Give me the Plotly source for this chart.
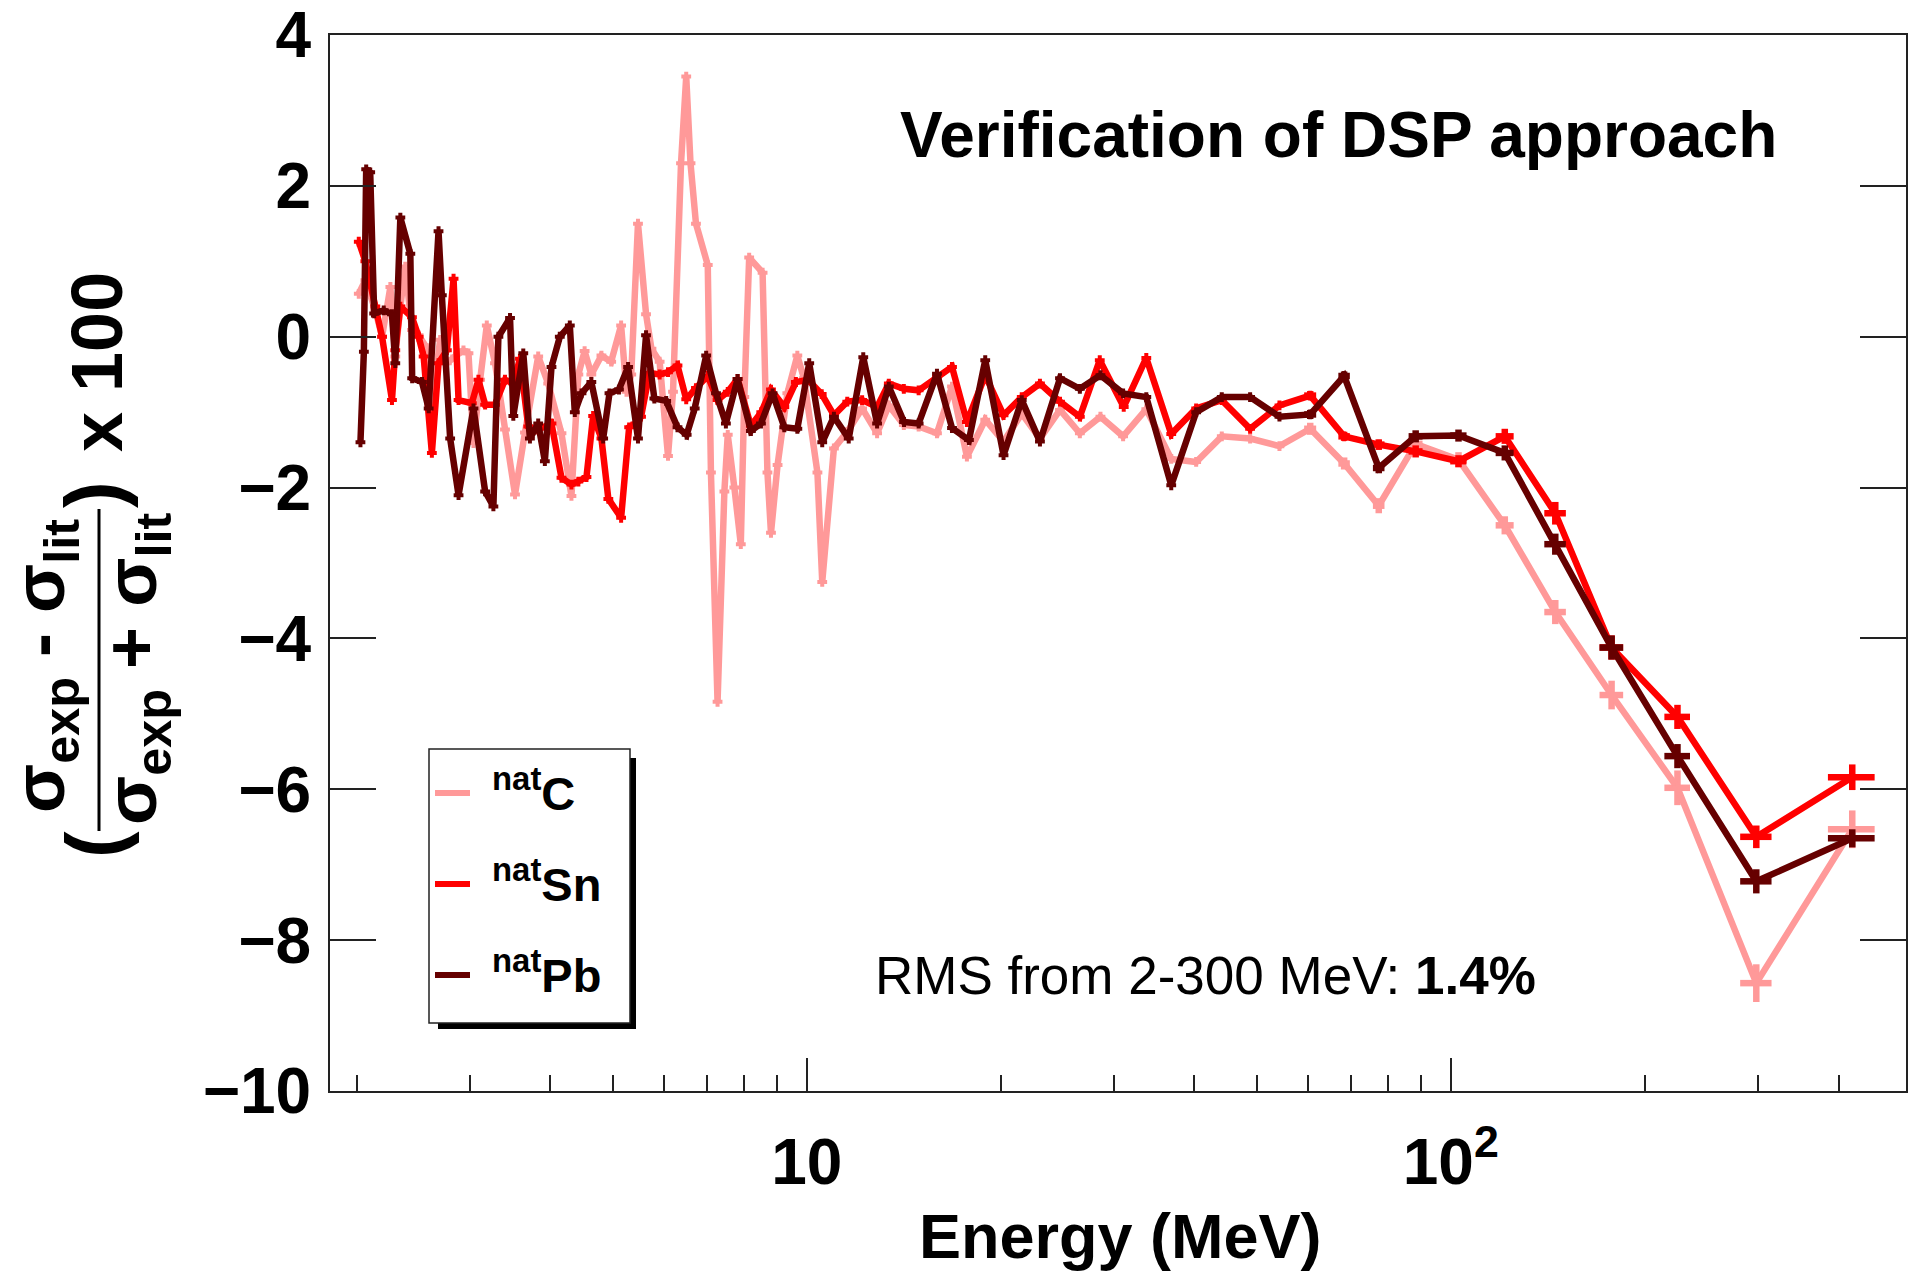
import math
import plotly.graph_objects as go

# ---------------- data ----------------
C_E = [2.016, 2.064, 2.139, 2.191, 2.257, 2.297, 2.339, 2.381, 2.438, 2.497,
       2.572, 2.618, 2.697, 2.762, 2.845, 2.931, 2.984, 3.038, 3.111, 3.186,
       3.281, 3.400, 3.524, 3.652, 3.829, 3.968, 4.161, 4.312,
       4.42, 4.52, 4.63, 4.80, 4.97, 5.15, 5.25, 5.34, 5.47, 5.63,
       5.74, 5.91, 6.09, 6.20, 6.38, 6.50, 6.60, 6.73, 7.02, 7.10,
       7.27, 7.45, 7.54, 7.72, 7.90, 8.00, 8.14, 8.54, 8.69, 8.80,
       9.01, 9.33, 9.67, 9.90, 10.39, 10.57,
       11.02, 11.56, 12.19, 12.86, 13.41, 14.15, 14.92, 15.93, 16.81, 17.73,
       18.93, 20.21, 21.57, 23.02, 24.73, 26.55, 28.58, 30.99, 33.67, 36.81,
       40.24, 44.1, 48.8, 54.2, 60.5, 68.3, 77.3, 88.2, 102.8, 121.3,
       145.3, 177.7, 224.9, 298.1, 420.1]
C_V = [0.57, 0.75, 0.35, 0.00, 0.66, -0.26, 0.40, 0.93, 0.09, 0.02,
       -0.15, -0.88, -0.04, -0.35, -0.26, -0.18, -0.22, -1.41, -0.57, 0.15,
       -0.35, -1.23, -2.09, -1.27, -0.26, -0.62, -1.28, -2.11,
       -0.50, -0.19, -0.50, -0.25, -0.33, 0.15, -0.73, -0.50, 1.50, 0.30,
       -0.16, -0.33, -1.58, -0.73, 2.30, 3.45, 2.30, 1.50, 0.95, -1.80,
       -4.84, -2.05, -1.30, -2.00, -2.75, -0.80, 1.05, 0.85, -1.80, -2.60,
       -1.70, -0.75, -0.25, -0.55, -1.80, -3.25,
       -1.48, -1.26, -0.95, -1.28, -0.91, -1.17, -1.19, -1.28, -0.66, -1.59,
       -1.10, -1.39, -1.02, -1.35, -0.97, -1.28, -1.06, -1.32, -0.96, -1.62,
       -1.66, -1.32, -1.35, -1.45, -1.22, -1.68, -2.24, -1.42, -1.63, -2.50,
       -3.65, -4.75, -5.98, -8.57, -6.53]

SN_E = [2.016, 2.064, 2.139, 2.191, 2.270, 2.297, 2.339, 2.438, 2.497, 2.542,
        2.618, 2.681, 2.762, 2.829, 2.880, 3.020, 3.092, 3.167, 3.281, 3.400,
        3.503, 3.587, 3.695, 3.829, 4.015, 4.161, 4.312, 4.42, 4.55, 4.66,
        4.80, 4.92, 5.15, 5.30, 5.42, 5.53, 5.70, 5.91, 6.09, 6.30,
        6.50, 6.73, 7.02, 7.27, 7.54, 7.81, 8.19, 8.50, 8.80, 9.23,
        9.62, 10.05, 10.55, 11.02, 11.56, 12.19, 12.86, 13.41, 14.15, 14.92,
        15.93, 16.81, 17.73, 18.93, 20.21, 21.57, 23.02, 24.73, 26.55, 28.51,
        31.06, 33.67, 36.81, 40.24, 44.1, 48.8, 54.2, 60.5, 68.3, 77.3,
        88.2, 102.8, 121.3, 145.3, 177.7, 224.9, 298.1, 420.1]
SN_V = [1.26, 1.00, 0.40, 0.00, -0.84, -0.18, 0.40, 0.26, 0.00, -0.26,
        -1.54, -0.35, -0.18, 0.77, -0.84, -0.88, -0.57, -0.90, -0.90, -0.57,
        -0.62, -0.29, -1.19, -1.23, -1.15, -1.87, -1.96, -1.92, -1.86, -1.05,
        -1.35, -2.15, -2.40, -1.20, -1.15, -1.06, -0.48, -0.50, -0.47, -0.38,
        -0.83, -0.68, -0.52, -0.84, -0.73, -0.56, -1.18, -1.00, -0.70, -0.93,
        -0.60, -0.57, -0.76, -1.04, -0.86, -0.84, -0.93, -0.62, -0.69, -0.71,
        -0.53, -0.40, -1.13, -0.51, -1.04, -0.80, -0.62, -0.86, -1.06, -0.31,
        -0.93, -0.28, -1.29, -0.95, -0.84, -1.22, -0.91, -0.78, -1.32, -1.43,
        -1.52, -1.65, -1.32, -2.34, -4.12, -5.04, -6.63, -5.84]

PB_E = [2.028, 2.053, 2.070, 2.100, 2.130, 2.204, 2.270, 2.297, 2.339, 2.424,
        2.440, 2.527, 2.588, 2.681, 2.713, 2.795, 2.880, 3.038, 3.167, 3.262,
        3.321, 3.462, 3.503, 3.630, 3.717, 3.829, 3.921, 4.015, 4.136, 4.287,
        4.364, 4.47, 4.63, 4.83, 4.94, 5.11, 5.28, 5.47, 5.63, 5.80,
        6.05, 6.30, 6.51, 6.70, 6.98, 7.23, 7.49, 7.81, 8.19, 8.49,
        8.85, 9.23, 9.67, 10.09, 10.57, 11.02, 11.62, 12.24, 12.86, 13.41,
        14.16, 14.92, 15.93, 16.81, 17.86, 18.93, 20.21, 21.57, 23.02, 24.73,
        26.55, 28.58, 30.99, 33.67, 36.81, 40.24, 44.1, 48.8, 54.2, 60.5,
        68.3, 77.3, 88.2, 102.8, 121.3, 145.3, 177.7, 224.9, 298.1, 420.1]
PB_V = [-1.40, -0.20, 2.22, 2.18, 0.31, 0.35, 0.30, -0.35, 1.58, 1.10,
        -0.55, -0.60, -0.95, 1.40, 0.55, -1.35, -2.10, -0.95, -2.05, -2.25,
        0.00, 0.25, -1.05, -0.22, -1.35, -1.15, -1.65, -0.40, 0.00, 0.15,
        -1.00, -0.75, -0.60, -1.35, -0.75, -0.70, -0.40, -1.35, 0.02, -0.82,
        -0.85, -1.20, -1.30, -0.95, -0.25, -0.75, -1.15, -0.56, -1.25, -1.15,
        -0.75, -1.20, -1.22, -0.35, -1.40, -1.06, -1.35, -0.27, -1.15, -0.66,
        -1.13, -1.15, -0.49, -1.21, -1.37, -0.31, -1.57, -0.84, -1.39, -0.55,
        -0.69, -0.51, -0.75, -0.80, -1.97, -1.00, -0.80, -0.80, -1.06, -1.03,
        -0.52, -1.74, -1.32, -1.31, -1.54, -2.75, -4.12, -5.56, -7.22, -6.65]

# error bars of the last 11 points (60.5 ... 420.1 MeV)
TAIL_DE = [1.3, 1.4, 1.6, 2.2, 3.0, 3.9, 5.6, 7.5, 10.3, 16.7, 35.0]
C_ERR = [0.08, 0.08, 0.10, 0.10, 0.10, 0.12, 0.16, 0.19, 0.23, 0.25, 0.25]
SN_ERR = [0.06, 0.06, 0.07, 0.08, 0.08, 0.10, 0.15, 0.16, 0.16, 0.15, 0.17]
PB_ERR = [0.06, 0.06, 0.07, 0.08, 0.08, 0.10, 0.14, 0.16, 0.16, 0.16, 0.12]

SERIES_NAMES = ["<sup>nat</sup>C", "<sup>nat</sup>Sn", "<sup>nat</sup>Pb"]
X_TICKS = [10, 100]
X_TICKTEXT = ["10", "10<sup>2</sup>"]
X_MINOR = [2, 3, 4, 5, 6, 7, 8, 9, 20, 30, 40, 50, 60, 70, 80, 90, 200, 300, 400]
Y_TICKS = [-10, -8, -6, -4, -2, 0, 2, 4]

# ---------------- style ----------------
COLORS = ["#ff9999", "#ff0000", "#660000"]
FONT = "Liberation Sans"
AX = "#222222"
W, H = 1918, 1277
L, T, R, B = 330, 35, 1906, 1091
PW, PH = R - L, B - T


def px(x):
    return (x - L) / PW


def py(y):
    return (B - y) / PH


fig = go.Figure()
for E, V, err, col in [(C_E, C_V, C_ERR, COLORS[0]),
                       (SN_E, SN_V, SN_ERR, COLORS[1]),
                       (PB_E, PB_V, PB_ERR, COLORS[2])]:
    n = len(E)
    ex = [0.0] * (n - len(TAIL_DE)) + TAIL_DE
    ey = [0.0] * (n - len(err)) + err
    fig.add_trace(go.Scatter(
        x=E, y=V, mode="lines+markers",
        line=dict(color=col, width=6.5),
        marker=dict(symbol="cross-thin", size=7, color=col,
                    line=dict(width=4, color=col)),
        error_x=dict(type="data", array=ex, arrayminus=ex, width=0,
                     thickness=6.5, color=col),
        error_y=dict(type="data", array=ey, width=0, thickness=6.5, color=col),
        showlegend=False, hoverinfo="skip"))

tickfont = dict(family=FONT, size=64, color="black", weight="bold")
fig.update_layout(
    width=W, height=H, paper_bgcolor="white", plot_bgcolor="white",
    margin=dict(l=L, r=W - R, t=T, b=H - B, autoexpand=False),
    showlegend=False,
    xaxis=dict(type="log", range=[0.2598, 2.7068], showline=True, linecolor=AX,
               linewidth=2, mirror=True, ticks="inside", ticklen=33, tickwidth=1.5,
               tickcolor=AX, tickvals=X_TICKS, ticktext=X_TICKTEXT,
               tickfont=tickfont, ticklabelstandoff=14, showgrid=False,
               zeroline=False, ticklabeloverflow="allow", automargin=False,
               minor=dict(tickmode="array", tickvals=X_MINOR, ticks="inside",
                          ticklen=16, tickwidth=1.5, tickcolor=AX, showgrid=False)),
    yaxis=dict(range=[-10, 4.001], showline=True, linecolor=AX, linewidth=2,
               mirror="ticks", ticks="inside", ticklen=46, tickwidth=1.5,
               tickcolor=AX, tickvals=Y_TICKS, tickfont=tickfont,
               ticklabelstandoff=4, showgrid=False, zeroline=False,
               ticklabeloverflow="allow", automargin=False),
)

shapes = []
ann = []

# legend (shadow, box, keys, labels)
shapes.append(dict(type="rect", xref="paper", yref="paper", x0=px(438), x1=px(636),
                   y0=py(1029), y1=py(758), fillcolor="black", line=dict(width=0),
                   layer="above"))
shapes.append(dict(type="rect", xref="paper", yref="paper", x0=px(429), x1=px(630),
                   y0=py(1023), y1=py(749), fillcolor="white",
                   line=dict(color=AX, width=1.5), layer="above"))
for i, (name, col) in enumerate(zip(SERIES_NAMES, COLORS)):
    yk = 793 + i * 91
    shapes.append(dict(type="line", xref="paper", yref="paper", x0=px(435), x1=px(470),
                       y0=py(yk), y1=py(yk), line=dict(color=col, width=6),
                       layer="above"))
    ann.append(dict(text=name, xref="paper", yref="paper", x=px(490), y=py(yk - 3),
                    xanchor="left", yanchor="middle", showarrow=False,
                    font=dict(family=FONT, size=47, color="black", weight="bold")))

# headline and RMS note
ann.append(dict(text="Verification of DSP approach", xref="paper", yref="paper",
                x=px(898), y=py(135), xanchor="left", yanchor="middle", showarrow=False,
                font=dict(family=FONT, size=64, color="black", weight="bold")))
ann.append(dict(text="RMS from 2-300 MeV: <b>1.4%</b>", xref="paper", yref="paper",
                x=px(873), y=py(975), xanchor="left", yanchor="middle", showarrow=False,
                font=dict(family=FONT, size=53, color="black")))

# x-axis title
ann.append(dict(text="Energy (MeV)", xref="paper", yref="paper", x=px(1120),
                y=py(1236), xanchor="center", yanchor="middle", showarrow=False,
                font=dict(family=FONT, size=63, color="black", weight="bold")))

# y-axis title: ( (s_exp - s_lit) / (s_exp + s_lit) ) x 100
yfont = dict(family=FONT, size=72, color="black", weight="bold")
ann.append(dict(text="σ<sub>exp</sub> - σ<sub>lit</sub>", xref="paper", yref="paper",
                x=px(44), y=py(666), textangle=-90, showarrow=False,
                xanchor="center", yanchor="middle", font=yfont))
ann.append(dict(text="σ<sub>exp</sub> + σ<sub>lit</sub>", xref="paper", yref="paper",
                x=px(136), y=py(669), textangle=-90, showarrow=False,
                xanchor="center", yanchor="middle", font=yfont))
shapes.append(dict(type="line", xref="paper", yref="paper", x0=px(99), x1=px(99),
                   y0=py(831), y1=py(509), line=dict(color="black", width=3)))
pfont = dict(family=FONT, size=80, color="black", weight="bold")
ann.append(dict(text="(", xref="paper", yref="paper", x=px(94), y=py(845),
                textangle=-90, showarrow=False, xanchor="center", yanchor="middle",
                font=pfont))
ann.append(dict(text=")", xref="paper", yref="paper", x=px(94), y=py(495),
                textangle=-90, showarrow=False, xanchor="center", yanchor="middle",
                font=pfont))
ann.append(dict(text="x 100", xref="paper", yref="paper", x=px(97), y=py(362),
                textangle=-90, showarrow=False, xanchor="center", yanchor="middle",
                font=yfont))

fig.update_layout(shapes=shapes, annotations=ann)
fig.write_html("out.html")
